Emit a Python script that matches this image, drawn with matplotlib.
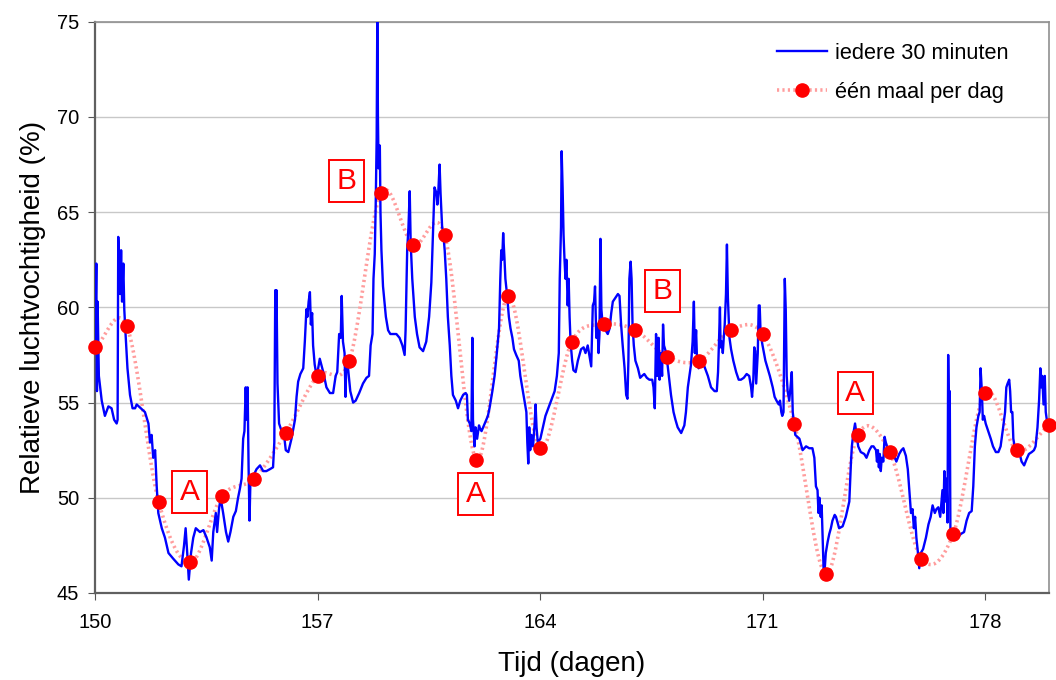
import numpy as np
import matplotlib
matplotlib.use("Agg")
import matplotlib.pyplot as plt
from matplotlib.patches import Rectangle
from matplotlib.transforms import ScaledTranslation

plt.rcParams['font.family'] = ['Liberation Sans', 'DejaVu Sans']

# half-hourly relative humidity
day_half = [
    150.00, 150.04, 150.06, 150.08, 150.12, 150.21, 150.31, 150.42, 150.52, 150.60,
    150.68, 150.71, 150.73, 150.79, 150.82, 150.85, 150.89, 150.92, 150.96, 151.02,
    151.10, 151.18, 151.26, 151.31, 151.57, 151.68, 151.73, 151.78, 151.83, 151.89,
    151.94, 151.99, 152.10, 152.20, 152.31, 152.46, 152.62, 152.72, 152.80, 152.85,
    152.90, 152.95, 153.02, 153.09, 153.17, 153.30, 153.41, 153.51, 153.61, 153.67,
    153.72, 153.77, 153.80, 153.84, 153.90, 153.95, 154.03, 154.12, 154.19, 154.26,
    154.35, 154.43, 154.50, 154.56, 154.61, 154.66, 154.70, 154.74, 154.77, 154.80,
    154.83, 154.86, 154.89, 154.94, 155.08, 155.19, 155.29, 155.39, 155.50, 155.60,
    155.64, 155.67, 155.69, 155.71, 155.74, 155.79, 155.87, 155.94, 156.00, 156.08,
    156.18, 156.29, 156.34, 156.39, 156.46, 156.55, 156.60, 156.65, 156.68, 156.72,
    156.76, 156.79, 156.83, 156.86, 156.91, 156.97, 157.02, 157.07, 157.18, 157.28,
    157.39, 157.49, 157.57, 157.62, 157.68, 157.73, 157.76, 157.80, 157.85, 157.88,
    157.91, 157.96, 158.03, 158.12, 158.20, 158.31, 158.43, 158.54, 158.62, 158.67,
    158.73, 158.76, 158.80, 158.83, 158.86, 158.88, 158.90, 158.92, 158.96, 158.98,
    159.01, 159.06, 159.15, 159.22, 159.29, 159.38, 159.48, 159.58, 159.67, 159.74,
    159.77, 159.82, 159.86, 159.90, 159.93, 159.98, 160.06, 160.13, 160.21, 160.32,
    160.42, 160.51, 160.58, 160.63, 160.68, 160.74, 160.77, 160.80, 160.84, 160.87,
    160.92, 160.95, 161.00, 161.05, 161.10, 161.16, 161.21, 161.26, 161.35, 161.42,
    161.49, 161.58, 161.66, 161.70, 161.73, 161.79, 161.84, 161.87, 161.89, 161.94,
    161.97, 162.02, 162.08, 162.12, 162.16, 162.26, 162.36, 162.41, 162.50, 162.57,
    162.64, 162.71, 162.75, 162.78, 162.81, 162.84, 162.88, 162.91, 162.96, 163.02,
    163.07, 163.13, 163.18, 163.25, 163.33, 163.38, 163.44, 163.51, 163.57, 163.60,
    163.63, 163.66, 163.69, 163.73, 163.78, 163.83, 163.86, 163.89, 163.93, 164.01,
    164.09, 164.17, 164.26, 164.35, 164.46, 164.53, 164.59, 164.62, 164.66, 164.68,
    164.71, 164.74, 164.77, 164.80, 164.83, 164.87, 164.90, 164.93, 164.96, 165.01,
    165.05, 165.12, 165.19, 165.29, 165.37, 165.43, 165.50, 165.56, 165.61, 165.66,
    165.70, 165.73, 165.77, 165.81, 165.84, 165.87, 165.90, 165.93, 165.98, 166.06,
    166.13, 166.19, 166.24, 166.29, 166.37, 166.45, 166.50, 166.55, 166.60, 166.66,
    166.71, 166.75, 166.78, 166.81, 166.85, 166.88, 166.91, 166.95, 167.00, 167.08,
    167.15, 167.21, 167.28, 167.36, 167.44, 167.53, 167.57, 167.61, 167.65, 167.69,
    167.73, 167.76, 167.80, 167.84, 167.87, 167.90, 167.97, 168.05, 168.12, 168.20,
    168.26, 168.33, 168.44, 168.54, 168.59, 168.65, 168.70, 168.75, 168.80, 168.84,
    168.87, 168.91, 168.94, 168.99, 169.07, 169.17, 169.28, 169.38, 169.49, 169.56,
    169.60, 169.63, 169.66, 169.68, 169.72, 169.75, 169.78, 169.81, 169.85, 169.88,
    169.91, 169.96, 170.01, 170.08, 170.17, 170.25, 170.32, 170.41, 170.50, 170.58,
    170.64, 170.67, 170.71, 170.74, 170.77, 170.80, 170.85, 170.88, 170.91, 170.94,
    171.00, 171.09, 171.16, 171.23, 171.32, 171.38, 171.44, 171.51, 171.55, 171.59,
    171.62, 171.66, 171.70, 171.73, 171.76, 171.79, 171.84, 171.88, 171.92, 171.95,
    172.03, 172.16, 172.26, 172.37, 172.47, 172.57, 172.63, 172.68, 172.73, 172.76,
    172.79, 172.83, 172.86, 172.89, 172.92, 172.95, 172.99, 173.05, 173.10, 173.15,
    173.20, 173.27, 173.31, 173.41, 173.52, 173.62, 173.73, 173.78, 173.81, 173.85,
    173.91, 173.96, 174.01, 174.09, 174.20, 174.27, 174.36, 174.43, 174.49, 174.57,
    174.60, 174.63, 174.66, 174.69, 174.72, 174.75, 174.80, 174.84, 174.88, 174.95,
    175.04, 175.14, 175.21, 175.30, 175.37, 175.43, 175.51, 175.57, 175.61, 175.67,
    175.72, 175.76, 175.80, 175.84, 175.89, 175.93, 175.98, 176.05, 176.14, 176.22,
    176.29, 176.35, 176.42, 176.47, 176.53, 176.59, 176.63, 176.66, 176.69, 176.72,
    176.75, 176.79, 176.82, 176.84, 176.87, 176.89, 176.91, 176.95, 177.03, 177.13,
    177.24, 177.34, 177.42, 177.50, 177.58, 177.63, 177.68, 177.73, 177.79, 177.83,
    177.86, 177.90, 177.93, 177.97, 178.02, 178.10, 178.18, 178.25, 178.34, 178.42,
    178.49, 178.57, 178.63, 178.67, 178.71, 178.76, 178.79, 178.82, 178.86, 178.89,
    178.93, 179.02, 179.09, 179.15, 179.23, 179.30, 179.38, 179.47, 179.54, 179.59,
    179.65, 179.70, 179.74, 179.77, 179.80, 179.84, 179.88, 179.91, 179.96, 180.01,
    180.06,
]
rh_half = [
    57.9, 62.3, 55.6, 60.3, 56.4, 55.1, 54.3, 54.8, 54.7, 54.1,
    53.9, 54.1, 63.7, 60.7, 63.0, 60.3, 62.3, 59.9, 58.6, 56.8,
    55.4, 54.7, 54.7, 54.9, 54.5, 53.9, 52.9, 53.3, 52.1, 52.5,
    50.6, 49.2, 48.4, 47.9, 47.1, 46.8, 46.5, 46.4, 47.5, 48.4,
    47.1, 45.7, 47.1, 47.9, 48.4, 48.2, 48.3, 47.9, 47.4, 46.7,
    48.2, 48.8, 49.2, 48.2, 49.4, 50.0, 49.2, 48.2, 47.7, 48.2,
    49.0, 49.3, 50.0, 50.5, 51.0, 53.1, 53.5, 55.8, 54.1, 55.8,
    51.7, 48.8, 51.0, 51.0, 51.5, 51.7, 51.4, 51.4, 51.5, 51.6,
    52.9, 60.9, 57.6, 60.9, 56.0, 53.9, 53.5, 53.4, 52.5, 52.4,
    53.1, 54.1, 55.3, 56.1, 56.5, 56.8, 58.2, 59.9, 59.5, 60.3,
    60.8, 59.1, 59.7, 58.0, 57.0, 56.4, 56.8, 57.3, 56.6, 55.8,
    55.5, 55.5, 56.4, 56.6, 58.6, 58.4, 60.6, 58.2, 57.6, 55.3,
    57.4, 56.8, 55.6, 55.0, 55.1, 55.5, 56.0, 56.3, 56.4, 58.0,
    58.6, 61.5, 62.8, 65.4, 68.9, 75.2, 70.0, 67.3, 68.5, 65.0,
    63.0, 61.1, 59.5, 58.8, 58.6, 58.6, 58.6, 58.4, 58.0, 57.5,
    58.8, 63.0, 64.2, 66.1, 63.4, 61.5, 59.5, 58.6, 57.9, 57.7,
    58.2, 59.5, 61.3, 63.8, 66.3, 66.0, 65.4, 66.1, 67.5, 66.0,
    64.2, 64.0, 63.0, 61.5, 59.5, 58.0, 56.4, 55.4, 55.1, 54.7,
    55.1, 55.4, 55.5, 55.4, 54.1, 53.9, 53.5, 58.4, 54.1, 52.7,
    53.7, 53.1, 53.8, 53.6, 53.5, 53.9, 54.3, 54.7, 55.6, 56.4,
    57.6, 58.9, 61.5, 63.0, 62.5, 63.9, 62.6, 61.5, 60.7, 59.5,
    58.9, 58.4, 57.8, 57.5, 57.2, 56.4, 55.8, 55.1, 54.5, 52.9,
    51.8, 53.7, 52.5, 53.3, 52.7, 53.9, 54.9, 53.7, 52.9, 53.1,
    53.7, 54.3, 54.7, 55.1, 55.6, 56.4, 57.6, 61.5, 64.2, 68.2,
    66.3, 63.8, 62.5, 61.5, 62.5, 60.1, 61.5, 59.5, 58.2, 57.2,
    56.7, 56.6, 57.2, 57.8, 57.9, 57.6, 58.0, 57.4, 56.9, 60.1,
    60.3, 61.1, 58.4, 59.1, 57.6, 58.6, 63.6, 59.9, 58.9, 58.8,
    58.6, 58.9, 59.7, 60.3, 60.5, 60.7, 60.6, 59.1, 58.0, 56.8,
    55.4, 55.2, 57.2, 61.5, 62.4, 61.5, 59.1, 58.0, 57.2, 56.8,
    56.3, 56.4, 56.5, 56.3, 56.2, 56.2, 55.8, 54.7, 58.6, 56.4,
    58.4, 56.2, 57.6, 56.4, 59.1, 58.0, 57.6, 56.4, 55.4, 54.5,
    54.1, 53.7, 53.4, 53.8, 54.5, 55.8, 56.4, 57.0, 58.2, 60.3,
    57.6, 58.8, 57.2, 56.8, 57.0, 56.9, 56.4, 55.8, 55.6, 55.6,
    56.6, 58.2, 60.0, 57.9, 58.2, 57.6, 58.4, 59.1, 60.7, 63.3,
    60.5, 58.4, 57.8, 57.2, 56.6, 56.2, 56.2, 56.3, 56.5, 56.4,
    55.8, 55.3, 56.2, 57.9, 57.7, 56.0, 57.6, 60.1, 60.1, 58.6,
    58.0, 57.2, 56.8, 56.4, 55.8, 55.3, 55.1, 54.9, 55.1, 54.5,
    54.3, 54.5, 61.5, 59.9, 56.4, 55.6, 55.1, 55.8, 56.6, 54.5,
    53.3, 53.1, 52.5, 52.7, 52.6, 52.6, 52.1, 50.6, 50.4, 49.2,
    50.0, 49.0, 49.6, 47.9, 46.3, 46.1, 47.1, 47.7, 48.1, 48.4,
    48.8, 49.1, 49.0, 48.4, 48.5, 49.0, 49.8, 51.8, 52.7, 53.3,
    53.9, 53.3, 52.7, 52.4, 52.3, 52.1, 52.5, 52.7, 52.7, 52.5,
    51.9, 52.5, 51.6, 52.3, 51.4, 52.1, 51.9, 53.2, 52.9, 52.5,
    52.3, 52.2, 51.9, 52.3, 52.5, 52.6, 52.2, 51.5, 50.6, 49.2,
    49.4, 48.4, 49.0, 47.9, 47.1, 46.3, 47.1, 47.3, 47.9, 48.6,
    49.0, 49.6, 49.2, 49.4, 49.5, 49.0, 49.8, 50.4, 49.2, 51.4,
    49.8, 51.0, 48.7, 57.5, 53.7, 55.6, 48.4, 48.0, 47.9, 47.9,
    48.1, 48.2, 48.8, 49.2, 49.3, 50.6, 52.7, 53.7, 54.3, 54.5,
    56.8, 55.6, 54.1, 54.3, 53.9, 53.5, 53.1, 52.7, 52.4, 52.4,
    52.7, 53.7, 54.5, 55.8, 56.0, 56.2, 55.6, 54.5, 54.5, 53.1,
    52.7, 52.5, 52.3, 51.9, 51.7, 52.0, 52.3, 52.4, 52.5, 52.7,
    53.7, 55.1, 56.8, 55.8, 56.4, 54.9, 56.4, 54.5, 53.9, 53.7,
    53.5,
]

# one value per day
day_daily = list(range(150, 181))
rh_daily = [57.9, 59.0, 49.8, 46.6, 50.1, 51.0, 53.4, 56.4, 57.2, 66.0,
            63.3, 63.8, 52.0, 60.6, 52.6, 58.2, 59.1, 58.8, 57.4, 57.2,
            58.8, 58.6, 53.9, 46.0, 53.3, 52.4, 46.8, 48.1, 55.5, 52.5,
            53.8]

# A / B markers
mark_text = ["A", "B", "A", "B", "A"]
mark_day = [152.97, 157.91, 161.97, 167.85, 173.92]
mark_rh = [50.28, 66.66, 50.19, 60.84, 55.50]


def smooth_line(x, y, n=24):
    # Excel-style smoothed line (Bezier through the points)
    x = np.asarray(x, float)
    y = np.asarray(y, float)
    px = np.concatenate([[2 * x[0] - x[1]], x, [2 * x[-1] - x[-2]]])
    py = np.concatenate([[2 * y[0] - y[1]], y, [2 * y[-1] - y[-2]]])
    t = np.linspace(0, 1, n)[:, None]
    xs, ys = [], []
    for i in range(1, len(px) - 2):
        p0 = np.array([px[i], py[i]])
        p3 = np.array([px[i + 1], py[i + 1]])
        p1 = p0 + (p3 - np.array([px[i - 1], py[i - 1]])) / 6
        p2 = p3 - (np.array([px[i + 2], py[i + 2]]) - p0) / 6
        seg = ((1 - t) ** 3) * p0 + 3 * ((1 - t) ** 2) * t * p1 \
            + 3 * (1 - t) * t ** 2 * p2 + t ** 3 * p3
        xs.append(seg[:, 0])
        ys.append(seg[:, 1])
    return np.concatenate(xs), np.concatenate(ys)


fig = plt.figure(figsize=(10.56, 6.8), dpi=100)
ax = fig.add_axes([0.090, 0.128, 0.903, 0.840])

line_half, = ax.plot(day_half, rh_half, color='#0000ff', lw=1.7, zorder=3)

sx, sy = smooth_line(day_daily, rh_daily)
curve, = ax.plot(sx, sy, color='#ff9d9d', lw=2.6, ls=(0, (0.6, 0.9)), zorder=2)
dots, = ax.plot(day_daily, rh_daily, ls='none', marker='o', ms=9.5,
                color='#ff0000', zorder=4, clip_on=False)

# boxed letters, box is 35 x 42 px
for s, xd, yd in zip(mark_text, mark_day, mark_rh):
    tr = fig.dpi_scale_trans + ScaledTranslation(xd, yd, ax.transData)
    ax.add_patch(Rectangle((-0.175, -0.21), 0.35, 0.42, transform=tr,
                           fc='white', ec='#ff0000', lw=1.4, zorder=5))
    ax.text(xd, yd, s, color='#ff0000', fontsize=21.5, ha='center',
            va='center', zorder=6)

ax.set_xlim(150, 180)
ax.set_ylim(45, 75)
ax.set_xticks([150, 157, 164, 171, 178])
ax.set_yticks(range(45, 80, 5))
ax.yaxis.grid(True, color='#c8c8c8', lw=1)
ax.set_axisbelow(True)
ax.tick_params(labelsize=14.5, direction='out', length=4.8, color='#555555')
ax.tick_params(axis='x', pad=9.5)
ax.tick_params(axis='y', pad=6.5)

for side in ['left', 'bottom']:
    ax.spines[side].set_color('#606060')
    ax.spines[side].set_linewidth(1.6)
for side in ['top', 'right']:
    ax.spines[side].set_color('#909090')
    ax.spines[side].set_linewidth(1.2)

ax.set_xlabel('Tijd (dagen)', fontsize=20, labelpad=14)
ax.set_ylabel('Relatieve luchtvochtigheid (%)', fontsize=20, labelpad=8)

ax.legend([line_half, (curve, dots)], ['iedere 30 minuten', 'één maal per dag'],
          loc='upper right', bbox_to_anchor=(0.979, 0.998), frameon=False,
          fontsize=15.7, handlelength=2.33, labelspacing=0.85, handletextpad=0.37)

fig.savefig('out.png', dpi=100)
